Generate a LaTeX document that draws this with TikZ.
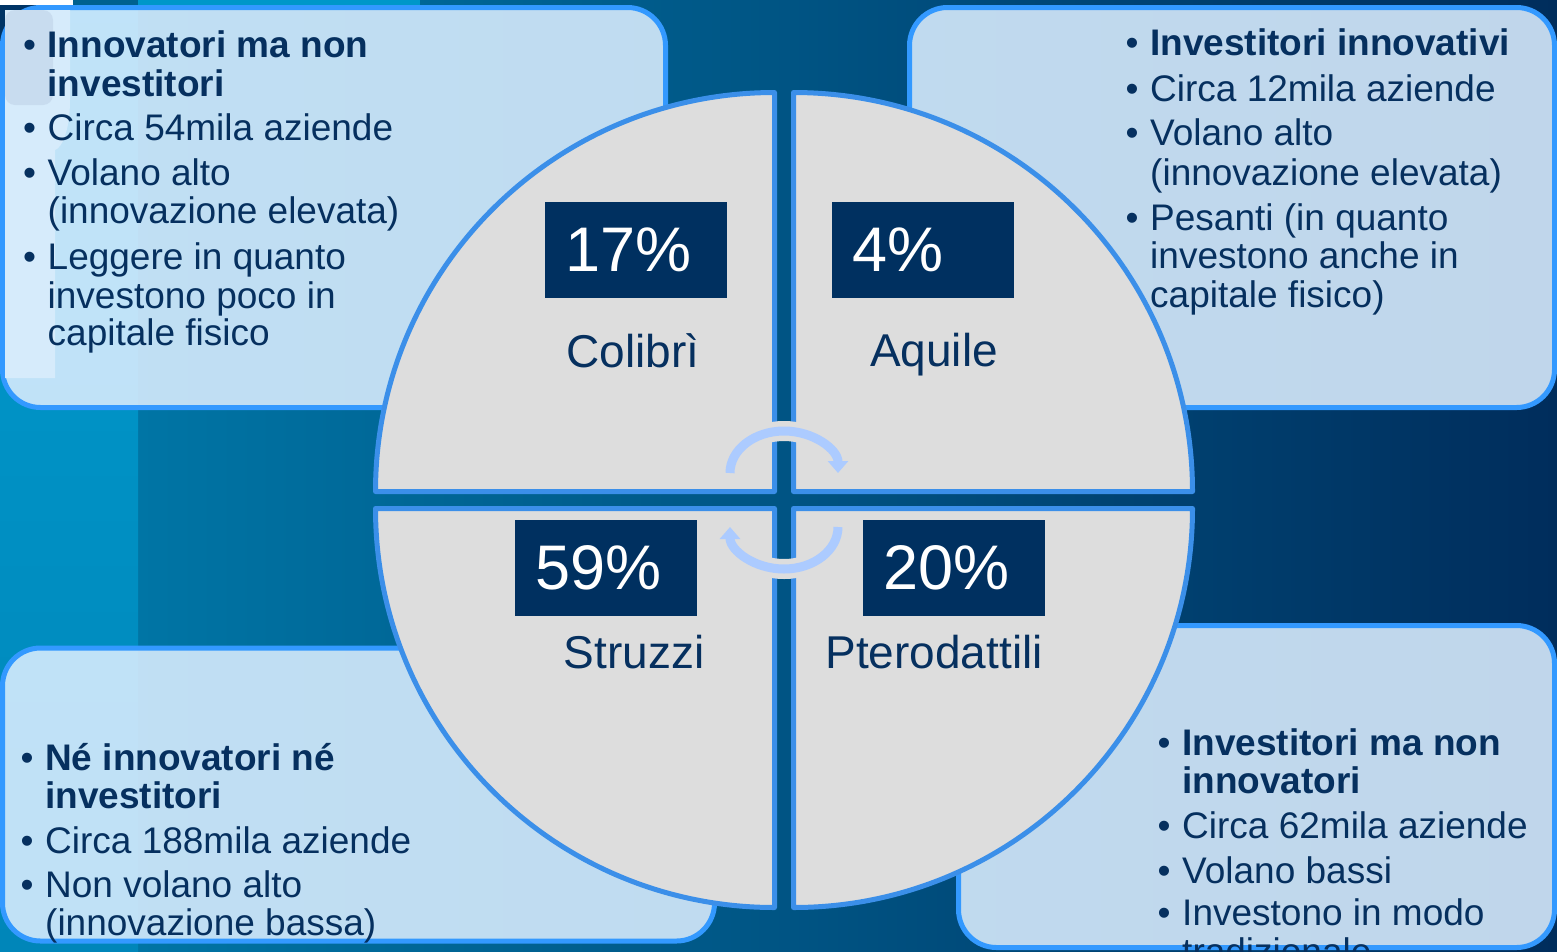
\documentclass[tikz,border=0pt]{standalone}
\usepackage{fontspec}
\setmainfont{Liberation Sans}
\usetikzlibrary{arrows.meta}
\definecolor{bgL}{HTML}{0075A5}
\definecolor{bgM}{HTML}{005C8A}
\definecolor{bgR}{HTML}{002D5C}
\definecolor{stripT}{HTML}{009BCE}
\definecolor{stripB}{HTML}{0086B9}
\definecolor{boxline}{HTML}{3399FF}
\definecolor{boxfill}{HTML}{DBEEFF}
\definecolor{quadline}{HTML}{3B8FE9}
\definecolor{quadfill}{HTML}{DDDDDD}
\definecolor{pctnavy}{HTML}{003060}
\definecolor{navytext}{HTML}{06305F}
\definecolor{arrowblue}{HTML}{ACCBFF}
\definecolor{ghostlight}{HTML}{D6EBFB}
\definecolor{ghostgrey}{HTML}{C8DCEF}
\definecolor{cornernavy}{HTML}{003465}
\definecolor{topteal}{HTML}{00618F}
\definecolor{topcyan}{HTML}{0097C9}
\newcounter{lnc}
\newcommand\Tl[3]{\stepcounter{lnc}\node[txt] (t\thelnc) at (#1,#2) {#3};}
\newcommand\Tb[3]{\stepcounter{lnc}\node[txt] (b\thelnc) at ({#1-24.5},#2) {•};\Tl{#1}{#2}{#3}}
\begin{document}
\begin{tikzpicture}[x=1pt,y=-1pt,
  box/.style={draw=boxline, line width=5pt, fill=boxfill, fill opacity=0.88, rounded corners=38pt},
  quad/.style={draw=quadline, line width=5pt, fill=quadfill, line join=round},
  pct/.style={fill=pctnavy, text=white, font=\fontsize{63}{63}\selectfont, minimum width=182pt, minimum height=96pt, inner sep=0pt, text width=142pt, align=left},
  lbl/.style={text=navytext, font=\fontsize{46}{46}\selectfont, anchor=base, inner sep=0pt},
  txt/.style={anchor=base west, inner sep=0pt, text=navytext, font=\fontsize{37}{37}\selectfont},
  halo/.style={draw=quadfill, line width=20pt},
  cyc/.style={draw=arrowblue, line width=9pt, -{Triangle[width=20pt,length=12pt]}}
]
\useasboundingbox (0,0) rectangle (1557,951);
\clip (0,0) rectangle (1557,951);
% background
\shade[left color=bgL, middle color=bgM, right color=bgR] (138,0) rectangle (1557,951);
\shade[top color=stripT, bottom color=stripB] (0,0) rectangle (138,951);
\fill[cornernavy] (0,0) rectangle (60,60);
\fill[white] (0,0) rectangle (73,4.5);
\fill[topteal] (73,0) rectangle (138,4.5);
\fill[topcyan] (138,0) rectangle (420,4.5);
% boxes
\draw[box] (2.5,7.5) rectangle (665.5,407.5);
\fill[ghostlight] (5,10) -- (70,10) -- (70,100) .. controls (70,130) and (62,148) .. (55,150) -- (55,378) -- (5,378) -- cycle;
\fill[ghostgrey, rounded corners=10pt] (5,10) rectangle (53,105);
\draw[box] (909.5,7.5) rectangle (1554.5,407.5);
\draw[box] (2.5,648) rectangle (714.5,941);
\draw[box] (958.5,625.5) rectangle (1554.5,947.5);
% quadrants
\draw[quad] (774.5,491.5) -- (375.5,491.5) arc[start angle=180,end angle=270,radius=399] -- cycle;
\draw[quad] (793.5,491.5) -- (793.5,92.5) arc[start angle=270,end angle=360,radius=399] -- cycle;
\draw[quad] (774.5,508.5) -- (774.5,907.5) arc[start angle=90,end angle=180,radius=399] -- cycle;
\draw[quad] (793.5,508.5) -- (1192.5,508.5) arc[start angle=0,end angle=90,radius=399] -- cycle;
% percentages
\node[pct] (p17) at (636,249.5) {17\%};
\node[pct] (p4) at (923,249.5) {4\%};
\node[pct] (p59) at (606,567.5) {59\%};
\node[pct] (p20) at (954,567.5) {20\%};
% labels
\node[lbl] (colibri) at (633,367) {Colibrì};
\node[lbl] (aquile) at (934,366) {Aquile};
\node[lbl] (struzzi) at (634,668) {Struzzi};
\node[lbl] (ptero) at (934,668) {Pterodattili};
% cycle arrows
\draw[halo] (730,473) arc[start angle=180,end angle=360,x radius=54,y radius=42];
\draw[halo] (838,527) arc[start angle=0,end angle=180,x radius=54,y radius=42];
\draw[cyc] (730,473) arc[start angle=180,end angle=360,x radius=54,y radius=42];
\draw[cyc] (838,527) arc[start angle=0,end angle=180,x radius=54,y radius=42];
% texts top-left
\Tb{47.5}{57}{\bfseries Innovatori ma non}
\Tl{47.5}{96}{\bfseries investitori}
\Tb{47.5}{140}{Circa 54mila aziende}
\Tb{47.5}{185}{Volano alto}
\Tl{47.5}{223}{(innovazione elevata)}
\Tb{47.5}{269}{Leggere in quanto}
\Tl{47.5}{308}{investono poco in}
\Tl{47.5}{345}{capitale fisico}
% texts top-right
\Tb{1150}{55}{\bfseries Investitori innovativi}
\Tb{1150}{101}{Circa 12mila aziende}
\Tb{1150}{145}{Volano alto}
\Tl{1150}{185}{(innovazione elevata)}
\Tb{1150}{230}{Pesanti (in quanto}
\Tl{1150}{268}{investono anche in}
\Tl{1150}{307}{capitale fisico)}
% texts bottom-left
\Tb{45}{770}{\bfseries Né innovatori né}
\Tl{45}{808}{\bfseries investitori}
\Tb{45}{853}{Circa 188mila aziende}
\Tb{45}{897}{Non volano alto}
\Tl{45}{935}{(innovazione bassa)}
% texts bottom-right
\Tb{1182}{755}{\bfseries Investitori ma non}
\Tl{1182}{793}{\bfseries innovatori}
\Tb{1182}{838}{Circa 62mila aziende}
\Tb{1182}{883}{Volano bassi}
\Tb{1182}{925}{Investono in modo}
\Tl{1182}{964}{tradizionale}
\end{tikzpicture}
\end{document}
